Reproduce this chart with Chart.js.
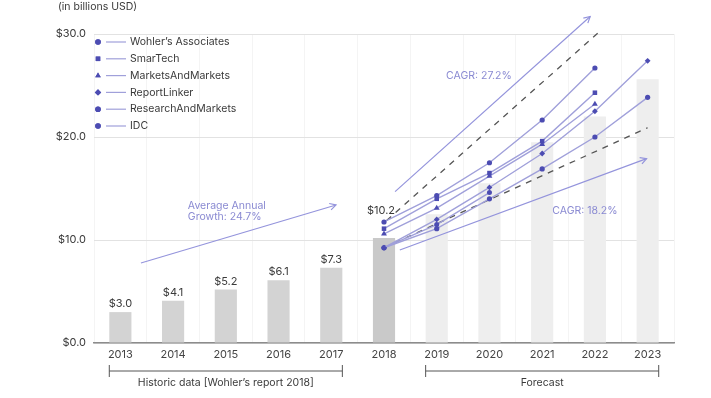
<!DOCTYPE html>
<html>
<head>
<meta charset="utf-8">
<script src="https://cdn.jsdelivr.net/npm/chart.js@4.4.1/dist/chart.umd.min.js"></script>
<style>
  html, body { margin: 0; padding: 0; background: #fff; }
  #wrap { width: 711px; height: 398px; }
</style>
</head>
<body>
<div id="wrap"><canvas id="chart" width="711" height="398"></canvas></div>
<script>
// --- Data ---
const years = ['2013', '2014', '2015', '2016', '2017', '2018', '2019', '2020', '2021', '2022', '2023'];
const historicBars = [3.0, 4.1, 5.2, 6.1, 7.3, 10.2, null, null, null, null, null];
const forecastBars = [null, null, null, null, null, null, 12.5, 15.5, 19.5, 22.0, 25.6];

const seriesNames = ['Wohler\u2019s Associates', 'SmarTech', 'MarketsAndMarkets', 'ReportLinker', 'ResearchAndMarkets', 'IDC'];
const wohlers = [null, null, null, null, null, 11.75, 14.3, 17.5, 21.65, 26.7, null];
const smarTech = [null, null, null, null, null, 11.1, 14.0, 16.5, 19.6, 24.3, null];
const marketsAndMarkets = [null, null, null, null, null, 10.6, 13.1, 16.2, 19.3, 23.2, null];
const reportLinker = [null, null, null, null, null, 9.25, 12.0, 15.1, 18.4, 22.5, 27.4];
const researchAndMarkets = [null, null, null, null, null, 9.25, 11.5, 14.6, null, null, null];
const idc = [null, null, null, null, null, 9.25, 11.1, 14.0, 16.9, 20.0, 23.85];

// trend arrows / dashed guides, x = year index
const avgGrowthArrow = [{ x: 0.39, y: 7.77 }, { x: 4.09, y: 13.4 }];
const cagrHighArrow = [{ x: 5.21, y: 14.7 }, { x: 8.91, y: 31.7 }];
const cagrLowArrow = [{ x: 5.30, y: 9.03 }, { x: 9.98, y: 17.9 }];
const dashHigh = [{ x: 5.05, y: 11.9 }, { x: 9.06, y: 30.1 }];
const dashLow = [{ x: 5.0, y: 9.25 }, { x: 10.0, y: 20.9 }];

const notes = [
  { text: ['CAGR: 27.2%'], x: 6.80, y: 25.9, align: 'center' },
  { text: ['CAGR: 18.2%'], x: 8.81, y: 12.84, align: 'center' },
  { text: ['Average Annual', 'Growth: 24.7%'], x: 1.28, y: 13.33, align: 'left' }
];
const bracketRanges = [[0, 4], [6, 10]];
const bracketLabels = ['Historic data [Wohler\u2019s report 2018]', 'Forecast'];
const unitLabel = '(in billions USD)';

// --- Styles ---
const FONT = 'Inter, "DejaVu Sans", sans-serif';
const lineColor = '#a0a0da';
const markColor = '#4c4cb2';
const noteColor = '#8a8ad2';
const textColor = '#3a3a3a';

Chart.defaults.font.family = FONT;
Chart.defaults.font.size = 11;
Chart.defaults.color = textColor;

function seriesDataset(label, data, style, radius) {
  return {
    type: 'line', label, data, xAxisID: 'x',
    borderColor: lineColor, borderWidth: 1.4,
    pointStyle: style, pointRadius: radius,
    pointBackgroundColor: markColor, pointBorderColor: markColor, pointBorderWidth: 0,
    order: 1
  };
}

function guideDataset(data, dashed) {
  return {
    type: 'line', data, xAxisID: 'xl',
    borderColor: dashed ? '#555' : '#9494dc', borderWidth: dashed ? 1.3 : 1.2,
    borderDash: dashed ? [6, 6] : [], pointRadius: 0, clip: false,
    arrow: !dashed, order: 2
  };
}

const seriesStyles = [['circle', 2.6], ['rect', 3.2], ['triangle', 3.4], ['rectRot', 2.9], ['circle', 2.5], ['circle', 2.6]];
const seriesData = [wohlers, smarTech, marketsAndMarkets, reportLinker, researchAndMarkets, idc];

const overlayPlugin = {
  id: 'overlay',
  afterDatasetsDraw(chart) {
    const ctx = chart.ctx;
    const area = chart.chartArea;
    const x = chart.scales.x, xl = chart.scales.xl, y = chart.scales.y;
    ctx.save();

    // arrowheads
    chart.data.datasets.forEach((ds, i) => {
      if (!ds.arrow) return;
      const pts = chart.getDatasetMeta(i).data;
      const a = pts[pts.length - 2], b = pts[pts.length - 1];
      const ang = Math.atan2(b.y - a.y, b.x - a.x);
      ctx.strokeStyle = ds.borderColor;
      ctx.lineWidth = 1.2;
      ctx.beginPath();
      ctx.moveTo(b.x - 7 * Math.cos(ang - 0.5), b.y - 7 * Math.sin(ang - 0.5));
      ctx.lineTo(b.x, b.y);
      ctx.lineTo(b.x - 7 * Math.cos(ang + 0.5), b.y - 7 * Math.sin(ang + 0.5));
      ctx.stroke();
    });

    // value labels above bars
    ctx.font = '11px ' + FONT;
    ctx.fillStyle = textColor;
    ctx.textAlign = 'center';
    ctx.textBaseline = 'middle';
    historicBars.forEach((v, i) => {
      if (v === null) return;
      const lift = i === 5 ? 27 : 8;
      ctx.fillText('$' + v.toFixed(1), x.getPixelForValue(i) - (i === 5 ? 3 : 0), y.getPixelForValue(v) - lift);
    });

    // notes
    ctx.fillStyle = noteColor;
    ctx.font = '10.5px ' + FONT;
    notes.forEach(n => {
      ctx.textAlign = n.align;
      n.text.forEach((t, k) => ctx.fillText(t, xl.getPixelForValue(n.x), y.getPixelForValue(n.y) + k * 11));
    });

    // legend
    seriesNames.forEach((name, i) => {
      const ly = area.top + 8 + i * 16.8;
      const lx = area.left + 4;
      ctx.strokeStyle = lineColor;
      ctx.lineWidth = 1.2;
      ctx.beginPath();
      ctx.moveTo(lx + 8, ly);
      ctx.lineTo(lx + 28, ly);
      ctx.stroke();
      ctx.fillStyle = markColor;
      ctx.beginPath();
      Chart.helpers.drawPoint(ctx, { pointStyle: seriesStyles[i][0], radius: seriesStyles[i][0] === 'circle' ? 2.8 : 3.2, rotation: 0 }, lx, ly);
      ctx.fill();
      ctx.fillStyle = textColor;
      ctx.textAlign = 'left';
      ctx.font = '10.5px ' + FONT;
      ctx.fillText(name, lx + 32, ly);
    });

    // unit label
    ctx.textAlign = 'left';
    ctx.fillStyle = textColor;
    ctx.fillText(unitLabel, area.left - 36, area.top - 27);

    // brackets below the axis
    const half = chart.getDatasetMeta(0).data[0].width / 2;
    const by = area.bottom + 28;
    ctx.strokeStyle = '#555';
    ctx.lineWidth = 1;
    bracketRanges.forEach((r, k) => {
      const x0 = x.getPixelForValue(r[0]) - half;
      const x1 = x.getPixelForValue(r[1]) + half;
      ctx.beginPath();
      ctx.moveTo(x0, by); ctx.lineTo(x1, by);
      ctx.moveTo(x0, by - 6); ctx.lineTo(x0, by + 6);
      ctx.moveTo(x1, by - 6); ctx.lineTo(x1, by + 6);
      ctx.stroke();
      ctx.textAlign = 'center';
      ctx.fillStyle = textColor;
      ctx.font = '10.5px ' + FONT;
      ctx.fillText(bracketLabels[k], (x0 + x1) / 2, by + 12);
    });
    ctx.restore();
  }
};

new Chart(document.getElementById('chart'), {
  data: {
    labels: years,
    datasets: [
      {
        type: 'bar', data: historicBars, xAxisID: 'x',
        backgroundColor: years.map((_, i) => i === 5 ? '#c9c9c9' : '#d3d3d3'),
        barPercentage: 0.42, categoryPercentage: 1, grouped: false, order: 10
      },
      {
        type: 'bar', data: forecastBars, xAxisID: 'x',
        backgroundColor: '#eeeeee',
        barPercentage: 0.42, categoryPercentage: 1, grouped: false, order: 10
      },
      ...seriesNames.map((n, i) => seriesDataset(n, seriesData[i], seriesStyles[i][0], seriesStyles[i][1])),
      guideDataset(dashHigh, true),
      guideDataset(dashLow, true),
      guideDataset(avgGrowthArrow, false),
      guideDataset(cagrHighArrow, false),
      guideDataset(cagrLowArrow, false)
    ]
  },
  options: {
    responsive: false,
    devicePixelRatio: 1,
    animation: false,
    layout: { padding: { left: 48, right: 37, top: 34, bottom: 33 } },
    plugins: { legend: { display: false }, tooltip: { enabled: false } },
    scales: {
      x: {
        type: 'category', offset: true,
        grid: { color: '#f4f4f4', drawTicks: false, offset: true },
        border: { color: '#8c8c8c', width: 1.5 },
        ticks: { padding: 5, color: '#444', font: { size: 11 } },
        afterFit: s => { s.height = 22; }
      },
      xl: { type: 'linear', display: false, min: -0.5, max: 10.5 },
      y: {
        min: 0, max: 30,
        ticks: { stepSize: 10, padding: 8, color: textColor, callback: v => '$' + v.toFixed(1) },
        grid: { color: '#e2e2e2', drawTicks: false },
        border: { display: false },
        afterFit: s => { s.width = 46; }
      }
    }
  },
  plugins: [overlayPlugin]
});
</script>
</body>
</html>
